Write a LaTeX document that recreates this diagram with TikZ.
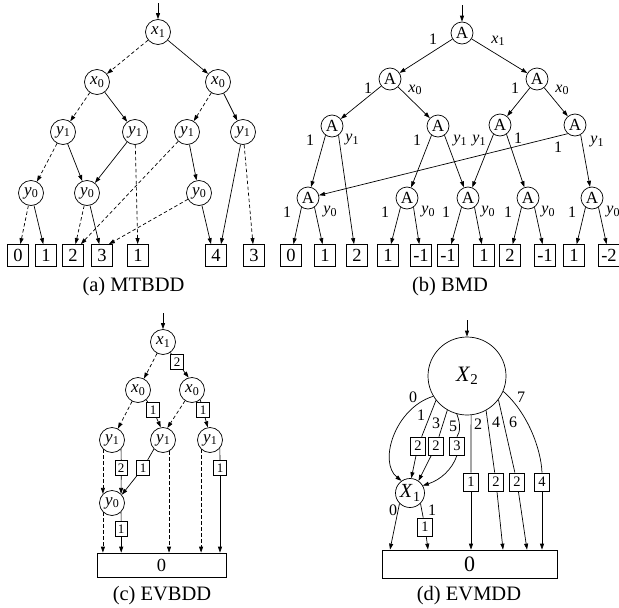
\documentclass[tikz,border=0pt]{standalone}
\usepackage{fontspec}
\setmainfont{Liberation Serif}
\usetikzlibrary{arrows.meta}
\newcommand\lab[4]{{\fontsize{#1}{#1}\selectfont\textit{#3}\kern0.3pt\raisebox{-0.35ex}{\fontsize{#2}{#2}\selectfont #4}}}
\tikzset{
  every node/.style={inner sep=0pt},
  vc/.style={circle,draw,minimum size=25pt},
  ac/.style={circle,draw,minimum size=22pt,font=\fontsize{17}{17}\selectfont},
  term/.style={draw,minimum width=21pt,minimum height=22pt,font=\fontsize{18.5}{18.5}\selectfont},
  cw/.style={draw,fill=white,minimum width=12.5pt,minimum height=15.5pt,font=\fontsize{13}{13}\selectfont},
  dw/.style={draw,fill=white,minimum width=14.5pt,minimum height=18pt,font=\fontsize{14.5}{14.5}\selectfont},
  elab/.style={font=\fontsize{16}{16}\selectfont},
  lo/.style={dash pattern=on 3.5pt off 2.5pt},
  captxt/.style={font=\fontsize{20.5}{20.5}\selectfont},
  arr/.style={-{Triangle[length=6pt,width=4pt]}}
}
\begin{document}
\begin{tikzpicture}[x=1pt,y=-1pt,line width=0.7pt]
\useasboundingbox (0,0) rectangle (619,608);
\clip (0,0) rectangle (619,608);
% ================= (a) MTBDD =================
\node[vc] (ax1) at (158,32) {\lab{17}{12}{x}{1}};
\node[vc] (ax0l) at (97,82) {\lab{17}{12}{x}{0}};
\node[vc] (ax0r) at (218,82) {\lab{17}{12}{x}{0}};
\node[vc] (ay1a) at (63,132) {\lab{17}{12}{y}{1}};
\node[vc] (ay1b) at (135,132) {\lab{17}{12}{y}{1}};
\node[vc] (ay1c) at (187,132) {\lab{17}{12}{y}{1}};
\node[vc] (ay1d) at (243,132) {\lab{17}{12}{y}{1}};
\node[vc] (ay0a) at (31,193) {\lab{17}{12}{y}{0}};
\node[vc] (ay0b) at (87,193) {\lab{17}{12}{y}{0}};
\node[vc] (ay0c) at (199,193) {\lab{17}{12}{y}{0}};
\node[term] (at0) at (18,255.5) {0};
\node[term] (at1) at (46,255.5) {1};
\node[term] (at2) at (73,255.5) {2};
\node[term] (at3) at (102,255.5) {3};
\node[term] (at4) at (138,255.5) {1};
\node[term] (at5) at (216,255.5) {4};
\node[term] (at6) at (254,255.5) {3};
\coordinate (atop) at (158,3);
\node[captxt] (acap) at (133.5,287) {(a) MTBDD};
\draw[arr] (atop) -- (ax1);
\draw[arr,lo] (ax1) -- (ax0l);
\draw[arr] (ax1) -- (ax0r);
\draw[arr,lo] (ax0l) -- (ay1a);
\draw[arr] (ax0l) -- (ay1b);
\draw[arr,lo] (ax0r) -- (ay1c);
\draw[arr] (ax0r) -- (ay1d);
\draw[arr,lo] (ay1a) -- (ay0a);
\draw[arr] (ay1a) -- (ay0b);
\draw[arr] (ay1b) -- (ay0b);
\draw[arr,lo] (ay1b) -- (at4);
\draw[arr,lo] (ay1c) -- ([xshift=-3pt]at2.north east);
\draw[arr] (ay1c) -- (ay0c);
\draw[arr] (ay1d) -- ([xshift=5pt]at5.north);
\draw[arr,lo] (ay1d) -- (at6);
\draw[arr,lo] (ay0a) -- (at0);
\draw[arr] (ay0a) -- (at1);
\draw[arr,lo] (ay0b) -- (at2);
\draw[arr] (ay0b) -- (at3);
\draw[arr,lo] (ay0c) -- ([xshift=-4pt]at3.north east);
\draw[arr] (ay0c) -- ([xshift=-5pt]at5.north);
% ================= (b) BMD =================
\node[ac] (bA0) at (462,33) {A};
\node[ac] (bA1) at (390,79) {A};
\node[ac] (bA2) at (537,79) {A};
\node[ac] (bA3) at (332,126) {A};
\node[ac] (bA4) at (438,126) {A};
\node[ac] (bA5) at (500,125) {A};
\node[ac] (bA6) at (575,125) {A};
\node[ac] (bA7) at (308,198) {A};
\node[ac] (bA8) at (407,198) {A};
\node[ac] (bA9) at (468,198) {A};
\node[ac] (bA10) at (528,198) {A};
\node[ac] (bA11) at (592,198) {A};
\node[term] (bt0) at (291,255.5) {0};
\node[term] (bt1) at (325,255.5) {1};
\node[term] (bt2) at (357,255.5) {2};
\node[term] (bt3) at (388,255.5) {1};
\node[term] (bt4) at (421,255.5) {-1};
\node[term] (bt5) at (448,255.5) {-1};
\node[term] (bt6) at (484,255.5) {1};
\node[term] (bt7) at (510,255.5) {2};
\node[term] (bt8) at (545,255.5) {-1};
\node[term] (bt9) at (574,255.5) {1};
\node[term] (bt10) at (609,255.5) {-2};
\coordinate (btop) at (462,5);
\node[captxt] (bcap) at (450,287) {(b) BMD};
\draw[arr] (btop) -- (bA0);
\draw[arr] (bA0) -- (bA1);
\draw[arr] (bA0) -- (bA2);
\draw[arr] (bA1) -- (bA3);
\draw[arr] (bA1) -- (bA4);
\draw[arr] (bA2) -- (bA5);
\draw[arr] (bA2) -- (bA6);
\draw[arr] (bA3.235) -- (bA7);
\draw[arr] (bA3.305) -- ([xshift=-3pt]bt2.north);
\draw[arr] (bA4.235) -- (bA8);
\draw[arr] (bA4.305) -- (bA9);
\draw[arr] (bA5.235) -- (bA9);
\draw[arr] (bA5.305) -- (bA10);
\draw[arr] (bA6.230) -- (bA7);
\draw[arr] (bA6.300) -- (bA11);
\draw[arr] (bA7.235) -- (bt0);
\draw[arr] (bA7.305) -- (bt1);
\draw[arr] (bA8.235) -- (bt3);
\draw[arr] (bA8.305) -- (bt4);
\draw[arr] (bA9.235) -- (bt5);
\draw[arr] (bA9.305) -- (bt6);
\draw[arr] (bA10.235) -- (bt7);
\draw[arr] (bA10.305) -- (bt8);
\draw[arr] (bA11.235) -- (bt9);
\draw[arr] (bA11.305) -- (bt10);
% (b) edge labels
\node[elab] (bl1) at (433,39) {1};
\node[elab] (bl2) at (498,41) {\lab{16}{12}{x}{1}};
\node[elab] (bl3) at (368,88) {1};
\node[elab] (bl4) at (415,90) {\lab{16}{12}{x}{0}};
\node[elab] (bl5) at (515,88) {1};
\node[elab] (bl6) at (562,90) {\lab{16}{12}{x}{0}};
\node[elab] (bl7) at (310,140) {1};
\node[elab] (bl8) at (352,140) {\lab{16}{12}{y}{1}};
\node[elab] (bl9) at (417,140) {1};
\node[elab] (bl10) at (460,141) {\lab{16}{12}{y}{1}};
\node[elab] (bl11) at (479,141) {\lab{16}{12}{y}{1}};
\node[elab] (bl12) at (518,138) {1};
\node[elab] (bl13) at (558,147) {1};
\node[elab] (bl14) at (597,142) {\lab{16}{12}{y}{1}};
\node[elab] (bl15) at (287,212) {1};
\node[elab] (bl16) at (330,212) {\lab{16}{12}{y}{0}};
\node[elab] (bl17) at (385,212) {1};
\node[elab] (bl18) at (428,212) {\lab{16}{12}{y}{0}};
\node[elab] (bl19) at (446,212) {1};
\node[elab] (bl20) at (488,212) {\lab{16}{12}{y}{0}};
\node[elab] (bl21) at (508,212) {1};
\node[elab] (bl22) at (548,212) {\lab{16}{12}{y}{0}};
\node[elab] (bl23) at (572,212) {1};
\node[elab] (bl24) at (613,212) {\lab{16}{12}{y}{0}};
% ================= (c) EVBDD =================
\node[vc] (cx1) at (163,342) {\lab{17}{12}{x}{1}};
\node[vc] (cx0l) at (138,390) {\lab{17}{12}{x}{0}};
\node[vc] (cx0r) at (192,390) {\lab{17}{12}{x}{0}};
\node[vc] (cy1a) at (112,440) {\lab{17}{12}{y}{1}};
\node[vc] (cy1b) at (163,440) {\lab{17}{12}{y}{1}};
\node[vc] (cy1c) at (210,440) {\lab{17}{12}{y}{1}};
\node[vc] (cy0) at (112,503) {\lab{17}{12}{y}{0}};
\node[draw,minimum width=129pt,minimum height=24pt,font=\fontsize{18.5}{18.5}\selectfont] (cT) at (161.5,565) {0};
\coordinate (ctop) at (163,313);
\node[captxt] (ccap) at (162,596) {(c) EVBDD};
\node[cw] (cw1) at (177,362) {2};
\node[cw] (cw2) at (153,410) {1};
\node[cw] (cw3) at (203,410) {1};
\node[cw] (cw4) at (121.2,468) {2};
\node[cw] (cw5) at (143,468) {1};
\node[cw] (cw6) at (220,468) {1};
\node[cw] (cw7) at (121.2,529) {1};
\draw[arr] (ctop) -- (cx1);
\draw[arr,lo] (cx1) -- (cx0l);
\draw (cx1) -- (cw1);
\draw[arr] (cw1) -- (cx0r.105);
\draw[arr,lo] (cx0l) -- (cy1a);
\draw (cx0l.-50) -- (cw2);
\draw[arr] (cw2) -- (cy1b.100);
\draw[arr,lo] (cx0r) -- (cy1b.70);
\draw (cx0r.-50) -- (cw3);
\draw[arr] (cw3) -- (cy1c.100);
\draw[arr,lo] (cy1a.225) -- (cy0.135);
\draw (cy1a.-45) -- (cw4);
\draw[arr] (cw4) -- (cy0.45);
\draw (cy1b.225) -- (cw5);
\draw[arr] (cw5) -- (cy0.40);
\draw[arr,lo] (cy1b.-62) -- (cy1b.-62 |- cT.north);
\draw[arr,lo] (cy1c.226) -- (cy1c.226 |- cT.north);
\draw (cy1c.-40) -- (cw6);
\draw[arr] (cw6) -- (cw6 |- cT.north);
\draw[arr,lo] (cy0.225) -- (cy0.225 |- cT.north);
\draw (cy0.-45) -- (cw7);
\draw[arr] (cw7) -- (cw7 |- cT.north);
% ================= (d) EVMDD =================
\node[circle,draw,minimum size=78pt] (X2) at (467,376) {\lab{22}{15}{X}{2}};
\node[circle,draw,minimum size=29pt] (X1) at (410,493) {\lab{20}{14}{X}{1}};
\node[draw,minimum width=175pt,minimum height=28pt,font=\fontsize{22}{22}\selectfont] (dT) at (469.5,564) {0};
\coordinate (dtop) at (467,320);
\node[captxt] (dcap) at (469,596) {(d) EVMDD};
\node[dw] (dw1) at (418,446) {2};
\node[dw] (dw2) at (436,446) {2};
\node[dw] (dw3) at (457,446) {3};
\node[dw] (dw4) at (471,482) {1};
\node[dw] (dw5) at (496,482) {2};
\node[dw] (dw6) at (517,482) {2};
\node[dw] (dw7) at (542,482) {4};
\node[dw] (dw8) at (425,527) {1};
\draw[arr] (dtop) -- (X2);
\draw[arr] (X2.211) .. controls (395,408) and (378,462) .. (X1.125);
\draw (X2.218) -- (dw1);
\draw[arr] (dw1) -- (X1.85);
\draw (X2.240) -- (dw2);
\draw[arr] (dw2) -- (X1.55);
\draw (X2.255) .. controls (461,425) and (460,432) .. (dw3.north);
\draw[arr] (dw3.south) .. controls (452,470) and (440,480) .. (X1.30);
\draw (X2.276) -- (dw4);
\draw[arr] (dw4) -- (dw4 |- dT.north);
\draw (X2.299) -- (dw5);
\draw[arr] (dw5) -- ([xshift=33.5pt]dT.north);
\draw (X2.323) -- (dw6);
\draw[arr] (dw6) -- ([xshift=57.5pt]dT.north);
\draw (X2.337) .. controls (527,412) and (541,448) .. (dw7.north);
\draw[arr] (dw7) -- (dw7 |- dT.north);
\draw[arr] (X1.225) -- ([xshift=-79.5pt]dT.north);
\draw (X1.-45) -- (dw8);
\draw[arr] (dw8) -- ([xshift=-41.5pt]dT.north);
\node[elab] (dl0) at (413,397) {0};
\node[elab] (dl1) at (421,415) {1};
\node[elab] (dl3) at (436,423) {3};
\node[elab] (dl5) at (453,426) {5};
\node[elab] (dl2) at (478,424) {2};
\node[elab] (dl4) at (496,422) {4};
\node[elab] (dl6) at (513,422) {6};
\node[elab] (dl7) at (521,397) {7};
\node[elab] (dlx0) at (393,510) {0};
\node[elab] (dlx1) at (432,510) {1};
\end{tikzpicture}
\end{document}
